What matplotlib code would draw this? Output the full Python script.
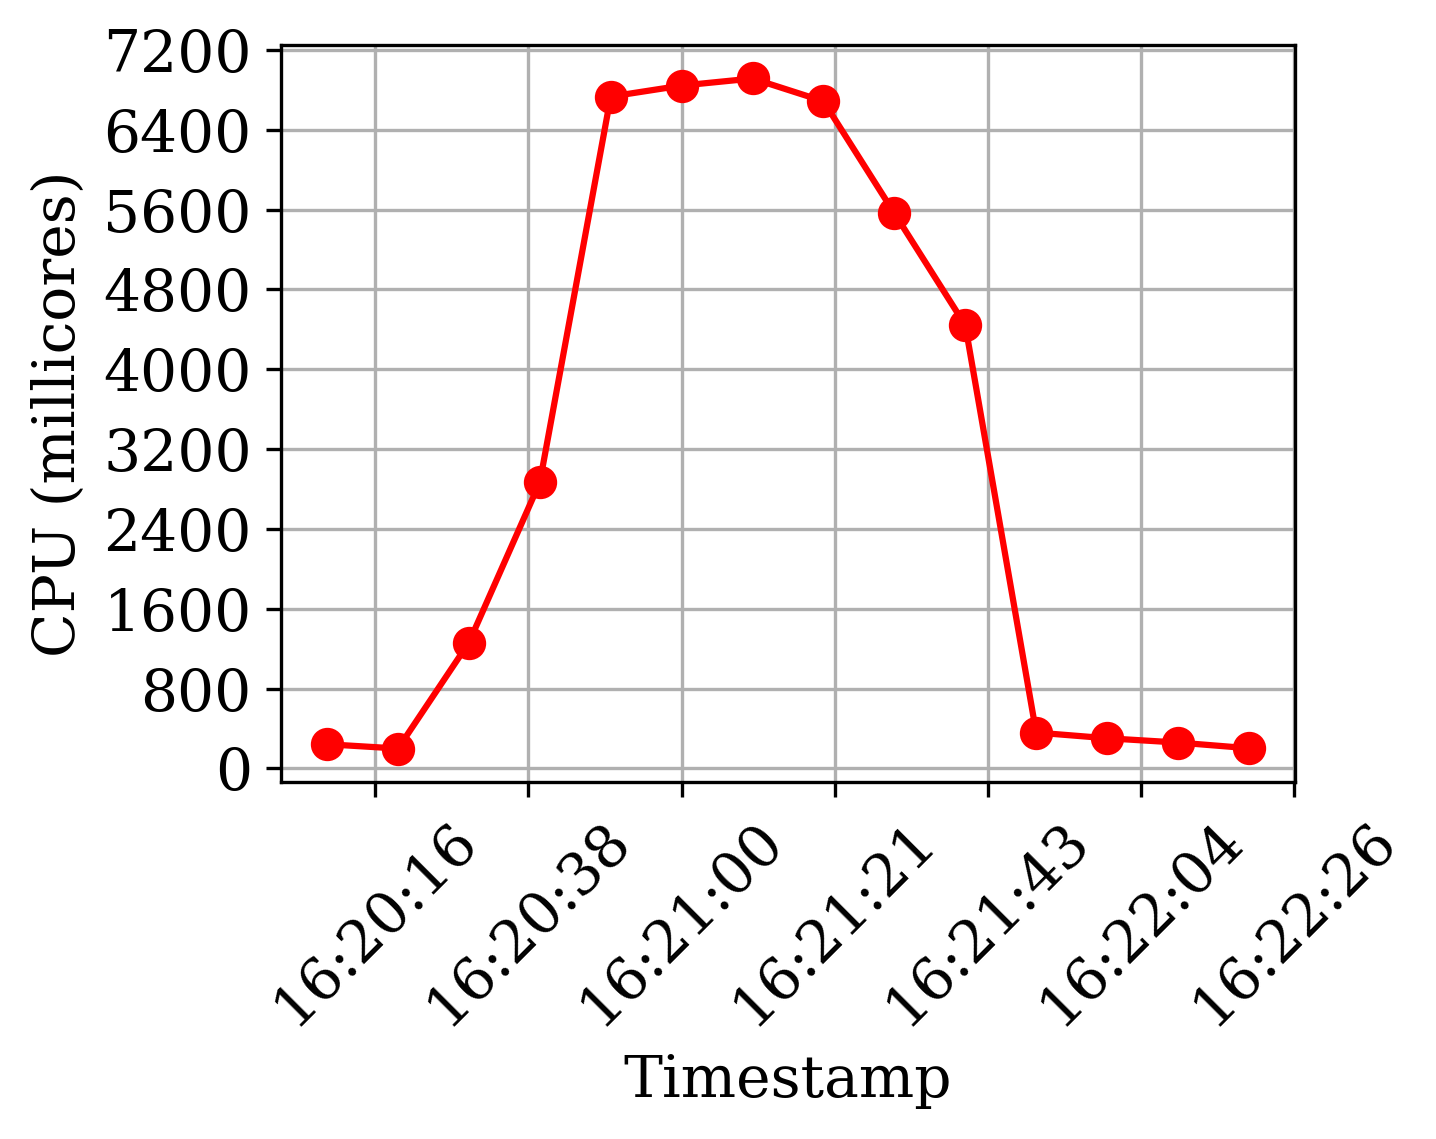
import matplotlib
matplotlib.use("Agg")
import matplotlib.dates as mdates
import matplotlib.pyplot as plt
import pandas as pd
from matplotlib.ticker import MultipleLocator

plt.rcParams.update({
    "font.family": "DejaVu Serif",
    "font.size": 14,
})

timestamps = pd.to_datetime([
    "2024-01-01 16:20:10", "2024-01-01 16:20:20", "2024-01-01 16:20:30",
    "2024-01-01 16:20:40", "2024-01-01 16:20:50", "2024-01-01 16:21:00",
    "2024-01-01 16:21:10", "2024-01-01 16:21:20", "2024-01-01 16:21:30",
    "2024-01-01 16:21:40", "2024-01-01 16:21:50", "2024-01-01 16:22:00",
    "2024-01-01 16:22:10", "2024-01-01 16:22:20",
])
cpu_millicores = [243, 200, 1262, 2868, 6733, 6843, 6914, 6686,
                  5564, 4442, 360, 303, 260, 203]

fig, ax = plt.subplots(figsize=(1436 / 300, 1139 / 300), dpi=300)
fig.subplots_adjust(left=0.1957, right=0.9018, top=0.9605, bottom=0.3134)

ax.plot(timestamps, cpu_millicores, color="red", marker="o",
        linewidth=1.5, markersize=7)

ax.xaxis.set_major_locator(MultipleLocator(0.00025))
ax.xaxis.set_major_formatter(mdates.DateFormatter("%H:%M:%S"))
ax.yaxis.set_major_locator(MultipleLocator(800))
plt.setp(ax.get_xticklabels(), rotation=45)

ax.set_xlabel("Timestamp")
ax.set_ylabel("CPU (millicores)")
ax.grid(True)

fig.savefig("out.png", dpi=300)
